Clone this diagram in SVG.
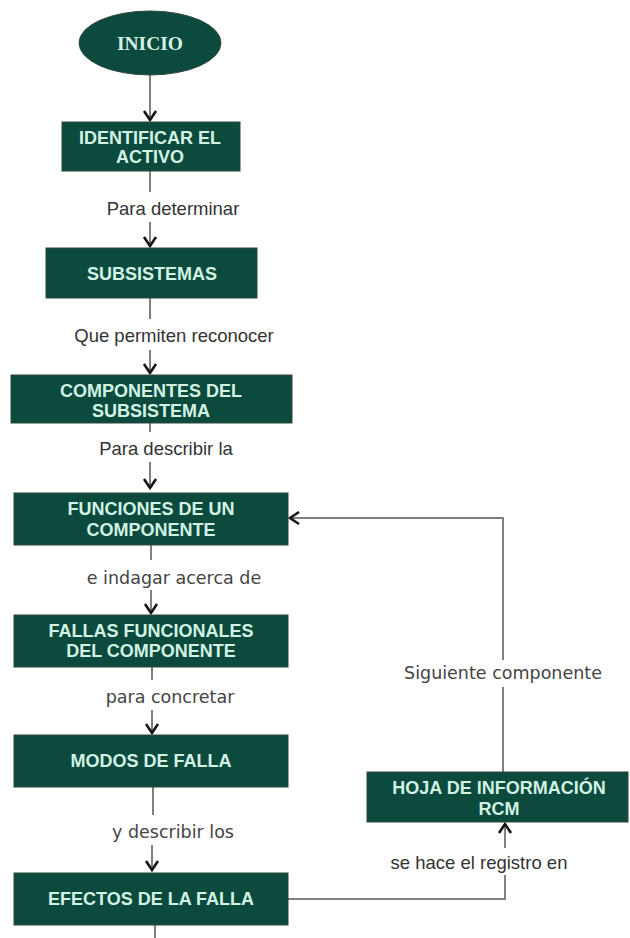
<svg xmlns="http://www.w3.org/2000/svg" width="630" height="938" viewBox="0 0 630 938">
  <style>
    .node { fill: #0b4a3c; stroke: #33463f; stroke-width: 1; }
    .ntext { fill: #d2f2e4; font-family: "Liberation Sans", Arial, sans-serif; font-weight: bold; font-size: 18px; text-anchor: middle; }
    .stext { fill: #d2f2e4; font-family: "Liberation Serif", "Times New Roman", serif; font-weight: bold; font-size: 19.5px; text-anchor: middle; }
    .wire { fill: none; stroke: #808080; stroke-width: 2; }
    .lab { fill: #333; font-family: "Liberation Sans", Arial, sans-serif; font-size: 18.5px; text-anchor: middle; }
    .lab2 { fill: #444; font-family: "DejaVu Sans", Verdana, sans-serif; font-size: 17.5px; text-anchor: middle; }
  </style>
  <defs>
    <marker id="chev" viewBox="0 0 12 14" refX="10" refY="7" markerWidth="12" markerHeight="14" markerUnits="userSpaceOnUse" orient="auto" overflow="visible">
      <path d="M1,1 L10,7 L1,13" fill="none" stroke="#151515" stroke-width="2.6"/>
    </marker>
  </defs>
  <rect width="630" height="938" fill="#ffffff"/>

  <!-- connectors -->
  <g id="connectors">
    <line class="wire" x1="150" y1="75" x2="150" y2="120" marker-end="url(#chev)"/>
    <line class="wire" x1="150" y1="171" x2="150" y2="192"/>
    <line class="wire" x1="150" y1="222" x2="150" y2="246" marker-end="url(#chev)"/>
    <line class="wire" x1="150" y1="298" x2="150" y2="319"/>
    <line class="wire" x1="150" y1="350" x2="150" y2="373" marker-end="url(#chev)"/>
    <line class="wire" x1="150" y1="423" x2="150" y2="432"/>
    <line class="wire" x1="150" y1="462" x2="150" y2="488" marker-end="url(#chev)"/>
    <line class="wire" x1="151" y1="545" x2="151" y2="560"/>
    <line class="wire" x1="151" y1="590" x2="151" y2="613" marker-end="url(#chev)"/>
    <line class="wire" x1="152" y1="667" x2="152" y2="680"/>
    <line class="wire" x1="152" y1="710" x2="152" y2="733" marker-end="url(#chev)"/>
    <line class="wire" x1="153" y1="787" x2="153" y2="815"/>
    <line class="wire" x1="152" y1="845" x2="152" y2="870" marker-end="url(#chev)"/>
    <line class="wire" x1="155" y1="925" x2="155" y2="938"/>
    <!-- record into the RCM sheet -->
    <polyline class="wire" points="288,899 505,899 505,875"/>
    <line class="wire" x1="505" y1="848" x2="505" y2="824" marker-end="url(#chev)"/>
    <!-- loop back to the next component -->
    <line class="wire" x1="503" y1="772" x2="503" y2="687"/>
    <polyline class="wire" points="503,660 503,518 290,518" marker-end="url(#chev)"/>

    <text class="lab" x="173" y="215">Para determinar</text>
    <text class="lab" x="174" y="342">Que permiten reconocer</text>
    <text class="lab" x="166" y="455">Para describir la</text>
    <text class="lab2" x="174" y="584">e indagar acerca de</text>
    <text class="lab2" x="170" y="703">para concretar</text>
    <text class="lab2" x="173" y="838">y describir los</text>
    <text class="lab2" x="503" y="679">Siguiente componente</text>
    <text class="lab" x="479" y="869">se hace el registro en</text>
  </g>

  <g id="inicio">
    <ellipse class="node" cx="150" cy="43" rx="71" ry="32"/>
    <text class="stext" x="150" y="49.5">INICIO</text>
  </g>
  <g id="identificar">
    <rect class="node" x="62" y="122" width="178" height="49"/>
    <text class="ntext" x="150" y="143.5">IDENTIFICAR EL</text>
    <text class="ntext" x="150" y="162.5">ACTIVO</text>
  </g>
  <g id="subsistemas">
    <rect class="node" x="46" y="248" width="211" height="50"/>
    <text class="ntext" x="152" y="279.5">SUBSISTEMAS</text>
  </g>
  <g id="componentes">
    <rect class="node" x="11" y="375" width="281" height="48"/>
    <text class="ntext" x="151" y="396.5">COMPONENTES DEL</text>
    <text class="ntext" x="151" y="416.5">SUBSISTEMA</text>
  </g>
  <g id="funciones">
    <rect class="node" x="14" y="493" width="274" height="52"/>
    <text class="ntext" x="151" y="514.5">FUNCIONES DE UN</text>
    <text class="ntext" x="151" y="535.5">COMPONENTE</text>
  </g>
  <g id="fallas">
    <rect class="node" x="14" y="615" width="274" height="52"/>
    <text class="ntext" x="151" y="636.5">FALLAS FUNCIONALES</text>
    <text class="ntext" x="151" y="656.5">DEL COMPONENTE</text>
  </g>
  <g id="modos">
    <rect class="node" x="14" y="735" width="274" height="52"/>
    <text class="ntext" x="151" y="766.5">MODOS DE FALLA</text>
  </g>
  <g id="efectos">
    <rect class="node" x="14" y="873" width="274" height="52"/>
    <text class="ntext" x="151" y="904.5">EFECTOS DE LA FALLA</text>
  </g>
  <g id="hoja">
    <rect class="node" x="367" y="772" width="261" height="50"/>
    <text class="ntext" x="499" y="793.5">HOJA DE INFORMACIÓN</text>
    <text class="ntext" x="499" y="814.5">RCM</text>
  </g>
</svg>
